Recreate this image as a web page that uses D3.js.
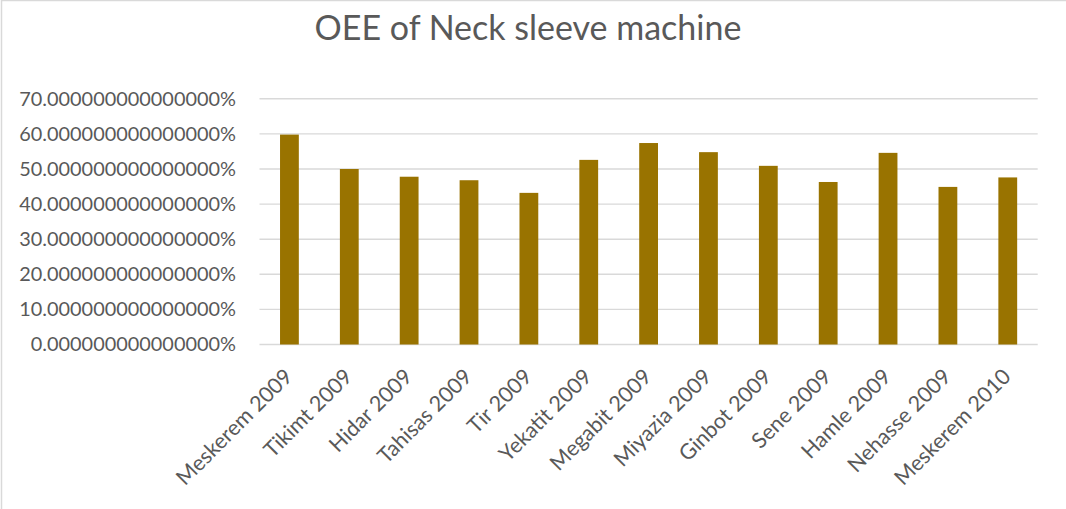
<!DOCTYPE html>
<html>
<head>
<meta charset="utf-8">
<script src="https://cdn.jsdelivr.net/npm/d3@7"></script>
<style>
  html, body { margin: 0; padding: 0; background: #fff; }
  svg { display: block; }
</style>
</head>
<body>
<svg id="chart" width="1066" height="509"></svg>
<script>
// Monthly OEE figures (Ethiopian calendar months)
const months = [
  "Meskerem 2009", "Tikimt 2009", "Hidar 2009", "Tahisas 2009", "Tir 2009",
  "Yekatit 2009", "Megabit 2009", "Miyazia 2009", "Ginbot 2009", "Sene 2009",
  "Hamle 2009", "Nehasse 2009", "Meskerem 2010"
];
const oee = [
  0.598, 0.500, 0.478, 0.468, 0.432,
  0.526, 0.574, 0.548, 0.509, 0.463,
  0.546, 0.449, 0.476
];
const yTicks = [0, 0.1, 0.2, 0.3, 0.4, 0.5, 0.6, 0.7];
const title = "OEE of Neck sleeve machine";

const W = 1066, H = 509;
const plot = { left: 259.5, right: 1037.7, top: 98.8, bottom: 344.5 };
const textColor = "#595959";
const gridColor = "#d9d9d9";
const barColor = "#997300";
const font = "Lato, 'Open Sans', sans-serif";

const svg = d3.select("#chart");

// chart area border
svg.append("rect")
  .attr("x", 1.5).attr("y", 0.5)
  .attr("width", W + 10).attr("height", H + 10)
  .attr("fill", "#fff")
  .attr("stroke", gridColor)
  .attr("stroke-width", 1.5);

const x = d3.scaleBand()
  .domain(months)
  .range([plot.left, plot.right])
  .paddingInner(0.686)
  .paddingOuter(0.343);

const y = d3.scaleLinear()
  .domain([0, 0.7])
  .range([plot.bottom, plot.top]);

// horizontal gridlines
svg.append("g")
  .selectAll("line")
  .data(yTicks)
  .join("line")
  .attr("x1", plot.left).attr("x2", plot.right)
  .attr("y1", d => y(d)).attr("y2", d => y(d))
  .attr("stroke", gridColor)
  .attr("stroke-width", 1.4);

// y axis labels
const fmt = d3.format(".15%");
const yAxis = d3.axisLeft(y)
  .tickValues(yTicks)
  .tickFormat(fmt)
  .tickSize(0)
  .tickPadding(0);
const gy = svg.append("g")
  .attr("transform", `translate(236,0)`)
  .call(yAxis);
gy.select(".domain").remove();
gy.selectAll("text")
  .attr("fill", textColor)
  .style("font-family", font)
  .style("font-size", "19.9px");

// bars
svg.append("g")
  .selectAll("rect")
  .data(months)
  .join("rect")
  .attr("x", (d) => x(d))
  .attr("width", x.bandwidth())
  .attr("y", (d, i) => y(oee[i]))
  .attr("height", (d, i) => y(0) - y(oee[i]))
  .attr("fill", barColor);

// x axis labels, rotated
const xAxis = d3.axisBottom(x).tickSize(0).tickPadding(0);
const gx = svg.append("g")
  .attr("transform", `translate(0,${plot.bottom})`)
  .call(xAxis);
gx.select(".domain").remove();
gx.selectAll("text")
  .attr("fill", textColor)
  .style("font-family", font)
  .style("font-size", "21.5px")
  .attr("text-anchor", "end")
  .attr("y", 0)
  .attr("dy", "0.35em")
  .attr("transform", "translate(-1,28) rotate(-45)");

// title
svg.append("text")
  .attr("x", 528)
  .attr("y", 40)
  .attr("text-anchor", "middle")
  .attr("fill", textColor)
  .style("font-family", font)
  .style("font-size", "34px")
  .text(title);
</script>
</body>
</html>
